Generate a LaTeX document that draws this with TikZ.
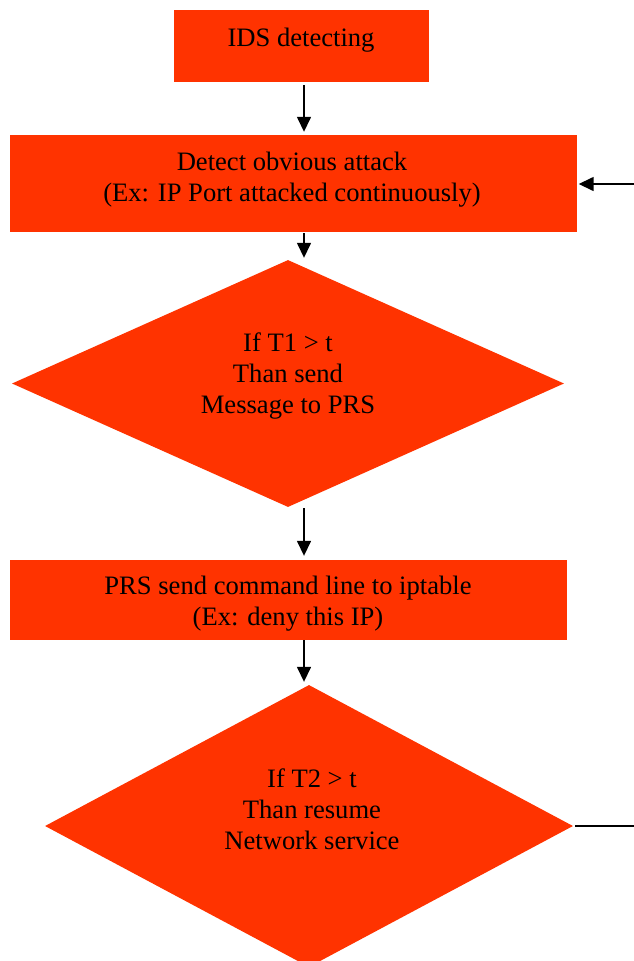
\documentclass[tikz,border=0pt]{standalone}
\usepackage{fontspec}
\setmainfont{Liberation Serif}
\usetikzlibrary{shapes.geometric,arrows.meta}
\definecolor{boxred}{HTML}{FF3300}
\tikzset{
  redbox/.style={fill=boxred, draw=none, inner sep=0pt, rectangle},
  reddia/.style={fill=boxred, draw=none, inner sep=0pt, diamond},
  txt/.style={align=center, inner sep=0pt, font=\fontsize{26.6}{31}\selectfont},
  arr/.style={line width=1.5pt, -{Triangle[length=15pt,width=14pt]}},
  ln/.style={line width=1.5pt}
}
\begin{document}
\begin{tikzpicture}[x=1pt,y=-1pt]
\clip (0,0) rectangle (634,961);
\fill[white] (0,0) rectangle (634,961);
\node[redbox, minimum width=255pt, minimum height=72pt] (b1) at (301.5,46) {};
\node[redbox, minimum width=567pt, minimum height=97pt] (b2) at (293.5,183.5) {};
\node[reddia, minimum width=552pt, minimum height=247pt] (d1) at (288,383.5) {};
\node[redbox, minimum width=557pt, minimum height=80pt] (b3) at (288.5,600) {};
\node[reddia, minimum width=528pt, minimum height=282pt] (d2) at (309,826) {};
\node[txt] (t1) at (301,40.5) {IDS detecting};
\node[txt] (t2) at (292,179.5) {Detect obvious attack\\(Ex: IP Port attacked continuously)};
\node[txt] (t3) at (288,376.5) {If T1 \textgreater{} t\\Than send\\Message to PRS};
\node[txt] (t4) at (288,603.5) {PRS send command line to iptable\\(Ex: deny this IP)};
\node[txt] (t5) at (312,809.5) {If T2 \textgreater{} t\\Than resume\\Network service};
\coordinate (ax) at (304,0);
\coordinate (rin) at (634,184);
\coordinate (rout) at (634,826);
\draw[arr, shorten <=3pt, shorten >=3pt] (b1.south -| ax) -- (b2.north -| ax);
\draw[arr, shorten <=1pt, shorten >=2pt] (b2.south -| ax) -- (d1.north -| ax);
\draw[arr, shorten <=1pt, shorten >=4pt] (d1.south -| ax) -- (b3.north -| ax);
\draw[arr, shorten >=3pt] (b3.south -| ax) -- (d2.north -| ax);
\draw[arr, shorten >=1.5pt] (rin) -- (b2.east |- rin);
\draw[ln, shorten <=2pt] (d2.east) -- (rout);
\end{tikzpicture}
\end{document}
